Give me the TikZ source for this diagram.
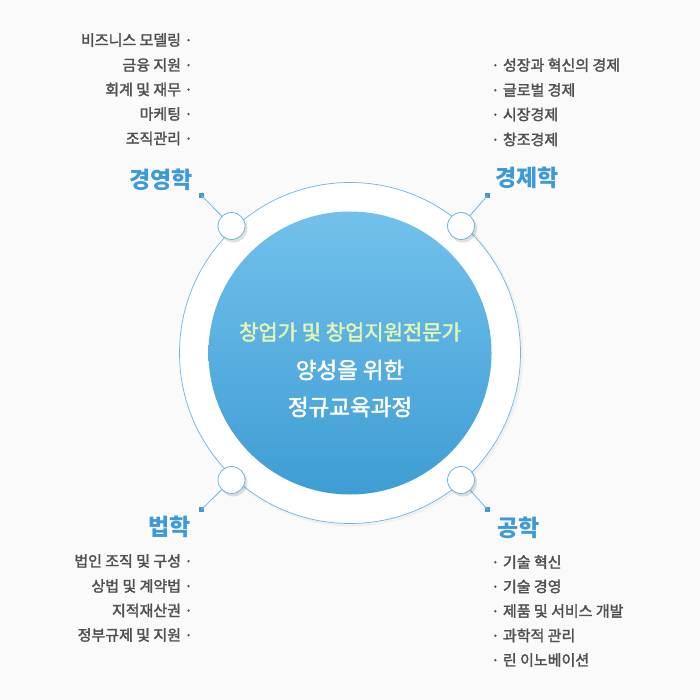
\documentclass[tikz,border=0pt]{standalone}
\usepackage{fontspec}
\setmainfont{Noto Sans CJK KR}
\newfontfamily\kr{Noto Sans CJK KR}
\newfontfamily\krm{Noto Sans CJK KR}[RawFeature={embolden=2}]
\usetikzlibrary{shadings}
\definecolor{bgc}{HTML}{FAFAFB}
\definecolor{ringc}{HTML}{6CB5E2}
\definecolor{headc}{HTML}{3D9AD8}
\definecolor{itemc}{HTML}{505050}
\definecolor{topc}{HTML}{72C1EB}
\definecolor{botc}{HTML}{3E9DD3}
\definecolor{lineone}{HTML}{E4F6B4}
\tikzset{
  heading/.style={font=\kr\fontsize{23pt}{26pt}\selectfont\bfseries, text=headc, inner sep=0pt},
  itemL/.style={font=\krm\fontsize{15pt}{17pt}\selectfont, text=itemc, inner sep=0pt, anchor=east},
  itemR/.style={font=\krm\fontsize{15pt}{17pt}\selectfont, text=itemc, inner sep=0pt, anchor=west},
  dotbox/.style={fill=headc, minimum size=5pt, inner sep=0pt, draw=none},
  knob/.style={circle, fill=white, draw=ringc, line width=0.8pt, minimum size=27pt, inner sep=0pt},
  knobshadow/.style={circle, fill=black, opacity=0.12, minimum size=28pt, inner sep=0pt},
  conn/.style={draw=ringc, line width=0.8pt},
  centertext/.style={inner sep=0pt, align=center},
  cfontA/.style={font=\krm\fontsize{21pt}{24pt}\selectfont},
  cfontB/.style={font=\krm\fontsize{22.5pt}{25pt}\selectfont},
}
\begin{document}
\begin{tikzpicture}[x=1pt,y=-1pt]
\fill[bgc] (0,0) rectangle (700,700);
\useasboundingbox (0,0) rectangle (700,700);
% outer ring
\node[circle, fill=black, opacity=0.04, minimum size=344pt, inner sep=0pt] at (351.5,354.5) {};
\node[circle, fill=white, draw=ringc, line width=0.7pt, minimum size=341pt, inner sep=0pt] (ring) at (350,353) {};
% inner blue disc
\shade[top color=topc, bottom color=botc] (350,353) circle (141.5);
% connectors
\node[dotbox] (sqTL) at (201.5,195.5) {};
\node[dotbox] (sqTR) at (487.5,195.5) {};
\node[dotbox] (sqBL) at (201.5,509.5) {};
\node[dotbox] (sqBR) at (487.5,509.5) {};
\coordinate (cTL) at (231.5,226);
\coordinate (cTR) at (461,226);
\coordinate (cBL) at (231.5,480);
\coordinate (cBR) at (461,480);
\draw[conn] (sqTL.center) -- (cTL);
\draw[conn] (sqTR.center) -- (cTR);
\draw[conn] (sqBL.center) -- (cBL);
\draw[conn] (sqBR.center) -- (cBR);
% knobs
\foreach \c in {cTL,cTR,cBL,cBR}{
  \node[knobshadow] at ([shift={(2,2.5)}]\c) {};
}
\node[knob] (kTL) at (cTL) {};
\node[knob] (kTR) at (cTR) {};
\node[knob] (kBL) at (cBL) {};
\node[knob] (kBR) at (cBR) {};
% center text
\node[centertext, text=lineone, cfontA] (t1) at (350,332) {창업가 및 창업지원전문가};
\node[centertext, text=white, cfontB] (t2) at (350,370) {양성을 위한};
\node[centertext, text=white, cfontB] (t3) at (350,407) {정규교육과정};
% top-left: 경영학
\node[heading, anchor=east] (hTL) at (193,180) {경영학};
\node[itemL] (a1) at (193,40) {비즈니스 모델링 ·};
\node[itemL] (a2) at (193,65) {금융 지원 ·};
\node[itemL] (a3) at (193,89.5) {회계 및 재무 ·};
\node[itemL] (a4) at (193,114) {마케팅 ·};
\node[itemL] (a5) at (193,138.5) {조직관리 ·};
% top-right: 경제학
\node[heading, anchor=west] (hTR) at (495,178) {경제학};
\node[itemR] (b1) at (491,65) {· 성장과 혁신의 경제};
\node[itemR] (b2) at (491,90) {· 글로벌 경제};
\node[itemR] (b3) at (491,114.5) {· 시장경제};
\node[itemR] (b4) at (491,139.5) {· 창조경제};
% bottom-left: 법학
\node[heading, anchor=east] (hBL) at (191,527) {법학};
\node[itemL] (c1) at (193,561) {법인 조직 및 구성 ·};
\node[itemL] (c2) at (193,586) {상법 및 계약법 ·};
\node[itemL] (c3) at (193,610.5) {지적재산권 ·};
\node[itemL] (c4) at (193,635) {정부규제 및 지원 ·};
% bottom-right: 공학
\node[heading, anchor=west] (hBR) at (497,528) {공학};
\node[itemR] (d1) at (491,562) {· 기술 혁신};
\node[itemR] (d2) at (491,586.5) {· 기술 경영};
\node[itemR] (d3) at (491,611) {· 제품 및 서비스 개발};
\node[itemR] (d4) at (491,635.5) {· 과학적 관리};
\node[itemR] (d5) at (491,660) {· 린 이노베이션};
\end{tikzpicture}
\end{document}
